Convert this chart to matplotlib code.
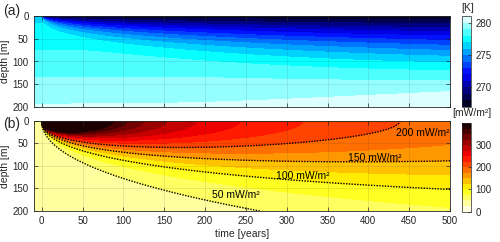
import math
import numpy as np
import matplotlib.pyplot as plt
from matplotlib.colors import ListedColormap

plt.rcParams['font.family'] = ['Liberation Sans', 'DejaVu Sans']

time_lim = [-10, 500]
depth_lim = [0, 200]
time_ticks = [0, 50, 100, 150, 200, 250, 300, 350, 400, 450, 500]
depth_ticks = [0, 50, 100, 150, 200]
temp_levels = np.arange(267, 282, 1)
temp_ticks = [270, 275, 280]
flux_levels = np.arange(0, 425, 25)
flux_ticks = [0, 100, 200, 300]

# dotted contours in (b) and their labels
line_levels = [50, 100, 150, 200]
line_labels = ['50 mW/m²', '100 mW/m²', '150 mW/m²', '200 mW/m²']
label_time = [238, 320, 408, 467]
label_depth = [165, 122, 82, 28]

# temperature field (a), parameters
T_surface = 267.1      # surface after the step
T_top0 = 276.74        # surface before the step
grad0 = 0.0168         # initial gradient, K/m
kappa_T = 6.0          # m2/yr
warm_max = 1.1         # slow warming at the bottom by t=500

# heat flux field (b), parameters fitted to the dotted contours
flux_bg = 41.0
flux_C = 2643.4
flux_a = 0.462
kappa_q = 9.18
flux_b = 1.049

t = np.linspace(time_lim[0], time_lim[1], 511)
z = np.linspace(depth_lim[0], depth_lim[1], 401)
tt, zz = np.meshgrid(t, z)
tp = np.where(tt > 0, tt, 1.0)
erfc = np.vectorize(math.erfc)

temp = T_top0 + grad0 * zz - (T_top0 - T_surface) * erfc(zz / (2 * np.sqrt(kappa_T * tp))) \
    + warm_max * (tp / 500) ** 3 * (zz / 200) ** 2
temp = np.where(tt > 0, temp, T_top0 + grad0 * zz)
temp = np.clip(temp, 267.01, 280.99)

flux = flux_bg + flux_C * tp ** (-flux_a) * np.exp(-zz ** 2 / (4 * kappa_q * tp ** flux_b))
flux = np.where(tt > 0, flux, flux_bg)
flux = np.clip(flux, 0.1, 399.9)

# "hot" with red and blue swapped: black -> blue -> cyan -> white
hot = plt.cm.hot(np.linspace(0, 1, 256))
cold_cmap = ListedColormap(hot[:, [2, 1, 0, 3]])

fig = plt.figure(figsize=(5, 2.42), dpi=100)
ax1 = fig.add_axes([33.5 / 500, 1 - 106.7 / 242, 416.5 / 500, 90.4 / 242])
ax2 = fig.add_axes([33.5 / 500, 1 - 211 / 242, 416.5 / 500, 90.3 / 242])
cax1 = fig.add_axes([462 / 500, 1 - 106.7 / 242, 8.5 / 500, 90.4 / 242])
cax2 = fig.add_axes([462 / 500, 1 - 211.5 / 242, 8.5 / 500, 88.5 / 242])

cf1 = ax1.contourf(tt, zz, temp, levels=temp_levels, cmap=cold_cmap)
cf2 = ax2.contourf(tt, zz, flux, levels=flux_levels, cmap='hot_r')
ax2.contour(tt, zz, flux, levels=line_levels, colors='k', linewidths=1.0,
            linestyles=[(0, (1, 1))])
for lab, lt, ld in zip(line_labels, label_time, label_depth):
    ax2.text(lt, ld, lab, fontsize=7.5, ha='center', va='center', color='k')

dark = (0.15, 0.15, 0.15)
for ax in (ax1, ax2):
    ax.set_xlim(time_lim)
    ax.set_ylim(depth_lim[1], depth_lim[0])
    ax.set_xticks(time_ticks)
    ax.set_yticks(depth_ticks)
    ax.set_axisbelow(False)
    ax.grid(True, color=dark, alpha=0.15, lw=0.5)
    ax.tick_params(direction='in', length=3, width=0.5, labelsize=7, colors=dark,
                   top=True, right=True)
    for s in ax.spines.values():
        s.set_color(dark)
        s.set_linewidth(0.6)
    ax.set_ylabel('depth [m]', fontsize=7.5, color=dark, labelpad=2)
ax1.set_xticklabels([])
ax2.set_xlabel('time [years]', fontsize=7.5, color=dark, labelpad=2)

cb1 = fig.colorbar(cf1, cax=cax1, ticks=temp_ticks)
cb2 = fig.colorbar(cf2, cax=cax2, ticks=flux_ticks)
for cb in (cb1, cb2):
    cb.ax.tick_params(labelsize=7, length=2, width=0.5, direction='in', colors=dark)
    cb.outline.set_linewidth(0.5)
    cb.outline.set_edgecolor(dark)
fig.text(468 / 500, 1 - 8 / 242, '[K]', fontsize=7.5, ha='center', va='center', color=dark)
fig.text(472 / 500, 1 - 113 / 242, '[mW/m²]', fontsize=7.5, ha='center', va='center', color=dark)
fig.text(3 / 500, 1 - 11 / 242, '(a)', fontsize=10, va='center', color=dark)
fig.text(3 / 500, 1 - 124 / 242, '(b)', fontsize=10, va='center', color=dark)

fig.savefig('out.png', dpi=100)
